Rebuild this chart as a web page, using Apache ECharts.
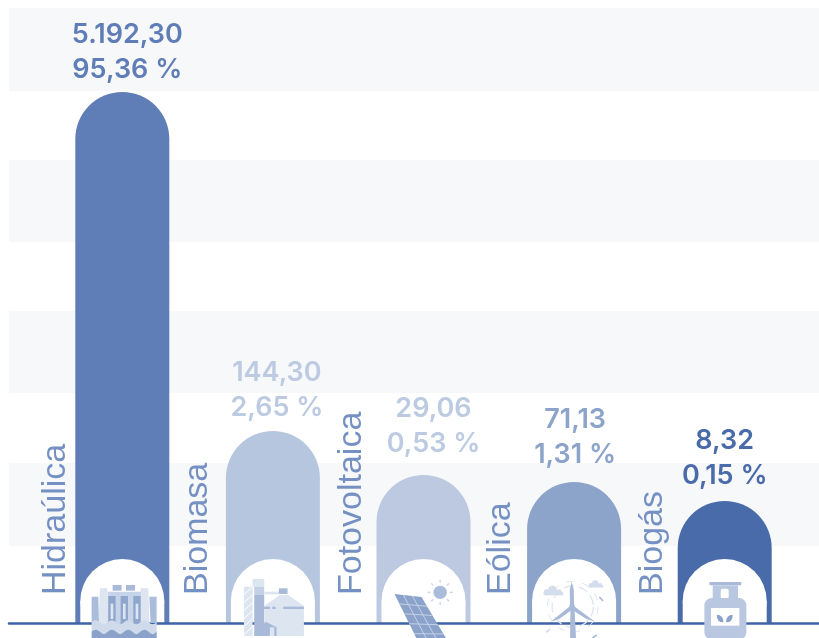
<!DOCTYPE html>
<html lang="es">
<head>
<meta charset="utf-8">
<title>Generación por fuente</title>
<style>
  html, body { margin: 0; padding: 0; background: #ffffff; }
  #chart { width: 819px; height: 638px; }
</style>
<script src="https://cdn.jsdelivr.net/npm/echarts@6/dist/echarts.min.js"></script>
</head>
<body>
<div id="chart"></div>
<script>
// Energy sources with their stated output and share.
const categories = ['Hidraúlica', 'Biomasa', 'Fotovoltaica', 'Eólica', 'Biogás'];
const energyLabels = ['5.192,30', '144,30', '29,06', '71,13', '8,32'];
const shareLabels = ['95,36 %', '2,65 %', '0,53 %', '1,31 %', '0,15 %'];
// The columns of this infographic are schematic: their heights are not proportional to the stated figures.
const columnHeights = [531, 192, 148, 141, 122];
const columnColors = ['#5f7db6', '#b7c6df', '#bcc9e1', '#8ca3ca', '#4a6baa'];
const labelColors = ['#5f7db6', '#bccae2', '#bccae2', '#8ca3ca', '#4a6baa'];
const labelShifts = [[5, 5], [4, 6], [10, 14], [1, 10], [0, 8]];
const nameOffsets = [-67, -75, -72, -73, -72];
const backgroundBands = [[77, 160], [230, 312], [381, 463], [532, 615]];

const PALE = '#dde5f1', MID = '#a8bad8', DARK = '#8ba3cb', SOFT = '#d3ddec';

const rect = (x, y, w, h, fill, r) => ({ type: 'rect', shape: { x, y, width: w, height: h, r: r || 0 }, style: { fill } });
const poly = (points, fill) => ({ type: 'polygon', shape: { points }, style: { fill } });
const dot = (cx, cy, r, fill) => ({ type: 'circle', shape: { cx, cy, r }, style: { fill } });
const stroke = (x1, y1, x2, y2, color, width) => ({
  type: 'line', shape: { x1, y1, x2, y2 }, style: { stroke: color, lineWidth: width, fill: null }
});
const ring = (r, color, width, dash) => ({
  type: 'circle', shape: { cx: -4, cy: -49, r },
  style: { fill: null, stroke: color, lineWidth: width, lineDash: dash }
});
const wave = (x0, x1, y, bottom, fill) => {
  const step = (x1 - x0) / 4;
  let d = 'M' + x0 + ' ' + y;
  for (let k = 0; k < 4; k++) {
    const x = x0 + k * step;
    d += ' Q' + (x + step / 4) + ' ' + (y - 12) + ' ' + (x + step / 2) + ' ' + y +
         ' Q' + (x + 3 * step / 4) + ' ' + (y + 12) + ' ' + (x + step) + ' ' + y;
  }
  d += ' L' + x1 + ' ' + bottom + ' L' + x0 + ' ' + bottom + ' Z';
  return { type: 'path', shape: { pathData: d }, style: { fill } };
};

// Pictograms are authored at three times screen size, centred on the column axis, origin on the baseline.
function hydroIcon() {
  const parts = [
    poly([[-67, -104], [-45, -104], [-43, 6], [-72, 6]], PALE),
    poly([[55, -104], [78, -104], [82, 6], [53, 6]], PALE),
    rect(-44, -94, 100, 100, '#c7d3e8'),
    poly([[-92, -79], [-72, -79], [-70, 0], [-92, 0]], '#a9bcd9'),
    poly([[81, -79], [103, -79], [103, 0], [85, 0]], '#a9bcd9'),
    rect(-29, -114, 27, 17, MID),
    rect(11, -114, 27, 17, MID)
  ];
  [-42, -5, 33].forEach(x => {
    parts.push(rect(x, -81, 22, 87, '#8fa6cd'));
    parts.push(rect(x + 7, -58, 8, 46, PALE));
  });
  parts.push(wave(-92, 103, -2, 30, '#cfdaeb'));
  parts.push(wave(-92, 103, 26, 50, DARK));
  return parts;
}

function biomassIcon() {
  const parts = [rect(-87, -109, 26, 148, PALE)];
  for (let y = -109; y < 30; y += 24) {
    parts.push(stroke(-87, y + 24, -61, y, '#ffffff', 3));
  }
  parts.push(
    rect(-61, -132, 35, 23, PALE),
    rect(-56, -109, 30, 25, '#c3d0e5'),
    rect(-56, -84, 30, 123, MID),
    rect(-26, -94, 44, 8, PALE),
    rect(18, -104, 26, 17, MID),
    poly([[-26, -51], [21, -84], [46, -84], [93, -51], [93, 39], [-26, 39]], PALE),
    rect(31, -49, 62, 7, MID),
    rect(-29, -49, 20, 7, MID),
    rect(-2, -49, 10, 7, MID),
    poly([[-41, 39], [-41, 20], [-21, -4], [11, 13], [11, 39]], MID),
    rect(-9, 13, 13, 26, PALE)
  );
  return parts;
}

function solarIcon() {
  const tl = [-87, -87], tr = [-6, -78], br = [69, 48], bl = [-20, 48];
  const mix = (a, b, t) => [a[0] + (b[0] - a[0]) * t, a[1] + (b[1] - a[1]) * t];
  const parts = [poly([tl, tr, br, bl], DARK)];
  [0.33, 0.66].forEach(t => {
    const a = mix(tl, tr, t), b = mix(bl, br, t);
    parts.push(stroke(a[0], a[1], b[0], b[1], '#c4d1e6', 3));
  });
  [0.22, 0.44, 0.66, 0.88].forEach(t => {
    const a = mix(tl, bl, t), b = mix(tr, br, t);
    parts.push(stroke(a[0], a[1], b[0], b[1], '#c4d1e6', 3));
  });
  parts.push(dot(50, -92, 20, '#a9bcdb'));
  for (let i = 0; i < 8; i++) {
    const an = i * Math.PI / 4;
    parts.push(stroke(50 + 29 * Math.cos(an), -92 + 29 * Math.sin(an), 50 + 38 * Math.cos(an), -92 + 38 * Math.sin(an), '#c9d6e9', 4));
  }
  return parts;
}

function windIcon() {
  const cloud = (x, y, s) => [
    dot(x + 10 * s, y, 9 * s, SOFT), dot(x + 27 * s, y - 7 * s, 13 * s, SOFT), dot(x + 46 * s, y, 9 * s, SOFT),
    rect(x, y, 60 * s, 9 * s, SOFT, 4)
  ];
  return [
    ring(62, PALE, 4, [30, 14]),
    ring(76, PALE, 3, [22, 26]),
    ...cloud(-92, -92, 1),
    ...cloud(43, -113, 0.75),
    poly([[-11, -49], [1, -49], [6, 50], [-12, 50]], MID),
    poly([[-7, -124], [-1, -100], [0, -49], [-12, -49], [-13, -100]], MID),
    poly([[-8, -54], [-3, -42], [-45, -12], [-70, -4]], MID),
    poly([[-6, -55], [-10, -42], [37, -12], [63, -4]], MID),
    dot(-6, -50, 8, MID),
    stroke(76, -78, 87, -66, MID, 5),
    stroke(-84, 28, -72, 18, SOFT, 5),
    stroke(55, 45, 68, 36, MID, 5)
  ];
}

function biogasIcon() {
  return [
    rect(-46, -123, 96, 10, '#a9bbd9', 3),
    rect(-36, -113, 76, 40, '#b9c8e0'),
    rect(-12, -103, 24, 30, '#ffffff', 6),
    rect(-61, -75, 126, 125, '#b9c8e0', 22),
    rect(-41, -45, 85, 53, '#ffffff'),
    { type: 'path', shape: { pathData: 'M-24 -25 Q-4 -25 -4 -2 Q-24 -2 -24 -25 Z' }, style: { fill: '#8ba3cb' } },
    { type: 'path', shape: { pathData: 'M24 -25 Q4 -25 4 -2 Q24 -2 24 -25 Z' }, style: { fill: '#8ba3cb' } }
  ];
}

const iconBuilders = [hydroIcon, biomassIcon, solarIcon, windIcon, biogasIcon];

const chart = echarts.init(document.getElementById('chart'), null, { renderer: 'canvas' });

chart.setOption({
  animation: false,
  backgroundColor: '#ffffff',
  grid: [
    { left: 47, width: 753, top: 0, height: 623 },
    { left: 9, width: 810, top: 0, height: 623 }
  ],
  xAxis: [
    { type: 'category', gridIndex: 0, data: categories, show: false },
    {
      type: 'value', gridIndex: 1, min: 0, max: 1, z: 5,
      axisLine: { show: true, onZero: false, lineStyle: { color: '#3f64a6', width: 2.5 } },
      axisTick: { show: false }, axisLabel: { show: false }, splitLine: { show: false }
    }
  ],
  yAxis: [
    { type: 'value', gridIndex: 0, min: 0, max: 623, show: false },
    { type: 'value', gridIndex: 1, min: 0, max: 623, show: false }
  ],
  series: [
    {
      // Pale horizontal bands behind the columns
      type: 'line', xAxisIndex: 1, yAxisIndex: 1, data: [], silent: true, z: 1,
      markArea: {
        silent: true,
        itemStyle: { color: '#f7f8fa' },
        data: backgroundBands.map(b => [{ xAxis: 0, yAxis: b[0] }, { xAxis: 1, yAxis: b[1] }])
      }
    },
    {
      type: 'bar', xAxisIndex: 0, yAxisIndex: 0, barWidth: 94, z: 2,
      data: columnHeights.map((h, i) => ({
        value: h,
        itemStyle: { color: columnColors[i] },
        label: { color: labelColors[i], distance: labelShifts[i][1], offset: [labelShifts[i][0], 0] }
      })),
      itemStyle: { borderRadius: [47, 47, 0, 0] },
      label: {
        show: true, position: 'top',
        fontFamily: 'Inter', fontWeight: 600, fontSize: 27, lineHeight: 35,
        formatter: p => energyLabels[p.dataIndex] + '\n' + shareLabels[p.dataIndex]
      }
    },
    {
      // White arch cut into the foot of each column
      type: 'custom', xAxisIndex: 0, yAxisIndex: 0, z: 3, silent: true,
      data: categories.map((c, i) => i),
      renderItem: (params, api) => {
        const p = api.coord([api.value(0), 0]);
        return {
          type: 'group', x: p[0], y: p[1],
          children: [dot(0, -22, 42, '#ffffff'), rect(-42, -22, 84, 22, '#ffffff')]
        };
      }
    },
    {
      // Source pictograms
      type: 'custom', xAxisIndex: 0, yAxisIndex: 0, z: 6, silent: true, clip: false,
      data: categories.map((c, i) => i),
      renderItem: (params, api) => {
        const p = api.coord([api.value(0), 0]);
        return {
          type: 'group', x: p[0], y: p[1], scaleX: 1 / 3, scaleY: 1 / 3,
          children: iconBuilders[params.dataIndex]()
        };
      }
    },
    {
      // Source names, reading upwards beside each column
      type: 'custom', xAxisIndex: 0, yAxisIndex: 0, z: 6, silent: true, clip: false,
      data: categories.map((c, i) => i),
      renderItem: (params, api) => {
        const p = api.coord([api.value(0), 0]);
        return {
          type: 'text',
          x: p[0] + nameOffsets[params.dataIndex],
          y: p[1] - 28,
          rotation: Math.PI / 2,
          style: {
            text: categories[params.dataIndex],
            fill: '#7590c3',
            font: '34px "Liberation Sans"',
            align: 'left',
            verticalAlign: 'middle'
          }
        };
      }
    }
  ]
});
</script>
</body>
</html>
